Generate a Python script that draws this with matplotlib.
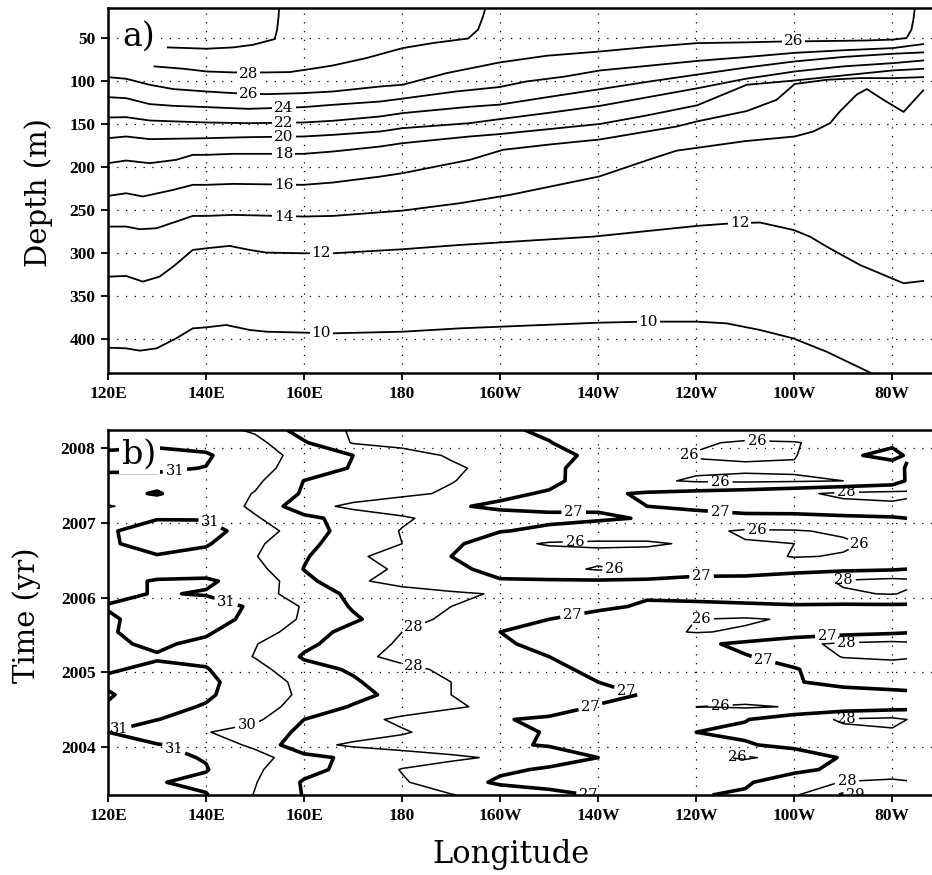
import numpy as np
import matplotlib
matplotlib.use("Agg")
import matplotlib.pyplot as plt
from matplotlib.font_manager import FontProperties

plt.rcParams['font.family'] = ['DejaVu Serif']

# ---------------- Panel a: isotherm depths (deg E, m) ----------------
iso30_lon = [132.2, 140.1, 145.5, 149.6, 153.0, 154.0, 154.5, 154.8, 154.9]
iso30_dep = [60.9, 62.4, 60.9, 57.8, 52.7, 51.2, 40.3, 24.7, 15.0]

iso28_lon = [129.5, 135.3, 140.1, 145.5, 152.3, 157.1, 162.5, 165.9, 172.7, 180.1, 186.3, 193.5, 195.5, 196.5, 197.0]
iso28_dep = [83.0, 85.7, 88.9, 90.0, 90.0, 89.6, 85.0, 81.9, 73.3, 61.7, 55.8, 50.5, 40.0, 25.0, 15.0]

iso26_lon = [120, 123.7, 128.5, 133.3, 140.1, 145.5, 152.3, 159.9, 165.9, 175.5, 180.1, 189.1, 199.9, 209.5,
             220.4, 230.0, 240.2, 250.0, 257.8, 266.0, 274.8, 280.0, 282.9, 283.9, 284.3, 284.6]
iso26_dep = [95.5, 97.4, 104.4, 109.4, 112.2, 114.1, 115.3, 114.1, 112.2, 106.4, 104.4, 90.8, 78.4, 70.6,
             65.6, 60.5, 55.9, 55.0, 54.0, 53.5, 52.8, 51.8, 50.0, 40.3, 28.7, 15.0]

iso24_lon = [120, 123.7, 128.5, 133.3, 140.1, 148.6, 159.9, 165.9, 175.5, 180.1, 191.0, 199.9, 205.4, 213.0,
             220.4, 230.0, 240.2, 250.0, 260.1, 270.0, 280.1, 286.3]
iso24_dep = [118.8, 120.0, 126.9, 128.9, 130.4, 132.4, 130.4, 127.7, 123.9, 120.5, 112.2, 107.0, 100.5, 95.0,
             87.7, 82.4, 76.6, 72.2, 67.2, 64.2, 61.7, 57.0]

iso22_lon = [120, 123.7, 128.5, 140.1, 148.6, 159.9, 165.9, 175.5, 180.1, 193.8, 199.9, 210, 220.4, 230,
             240.2, 250, 260.1, 270, 280.1, 286.3]
iso22_dep = [142.5, 142.1, 146.0, 148.3, 149.1, 148.3, 146.3, 141.3, 137.4, 130.0, 127.5, 118.5, 109.5, 101.0,
             92.5, 84.5, 77.2, 72.0, 68.3, 66.7]

iso20_lon = [120, 123.7, 128.5, 140.1, 148.6, 159.9, 165.9, 175.5, 180.1, 193.8, 199.9, 210, 220.4, 230,
             240.2, 250, 260.1, 270, 280.1, 286.3]
iso20_dep = [166.6, 164.6, 167.7, 166.6, 165.4, 164.6, 162.7, 158.8, 154.9, 149.1, 144.4, 137.0, 128.9, 119.0,
             108.5, 97.5, 88.9, 83.0, 79.2, 76.1]

iso18_lon = [120, 123.7, 128.5, 133.9, 137.3, 140.1, 145.5, 159.9, 165.9, 175.5, 180.1, 193.8, 199.9, 210,
             220.4, 230, 240.2, 250.3, 260.1, 268, 280.1, 286.3]
iso18_dep = [195.7, 192.6, 195.7, 191.8, 186.0, 186.0, 184.8, 184.8, 182.1, 176.3, 172.4, 164.6, 161.8, 156.0,
             150.0, 140.0, 128.3, 104.4, 99.4, 94.7, 87.7, 85.8]

iso16_lon = [120, 123.7, 127.1, 133.3, 137.3, 140.1, 145.5, 159.9, 165.9, 175.5, 180.1, 193.8, 200.6, 210,
             220.3, 236, 240.2, 250.3, 256.4, 260.1, 266.6, 273.4, 280.1, 286.3]
iso16_dep = [233.8, 230.7, 234.5, 226.8, 220.9, 220.9, 219.8, 220.9, 218.2, 211.3, 207.3, 191.8, 180.1, 174.0,
             168.1, 153.0, 147.0, 135.0, 121.9, 103.5, 98.6, 96.6, 96.7, 95.5]

iso14_lon = [120, 123.7, 126.5, 129.9, 133.9, 137.3, 140.1, 145.5, 159.9, 165.9, 180.1, 191.8, 202.0, 220.2,
             230.6, 236.0, 250, 260.1, 263.9, 267.3, 269.3, 272.7, 274.8, 278.5, 282.3, 286.3]
iso14_dep = [269.5, 269.5, 272.6, 271.4, 263.7, 257.1, 257.1, 255.9, 257.8, 257.1, 250.9, 242.3, 232.6, 211.2,
             191.1, 181.1, 170.0, 164.6, 158.8, 149.1, 135.5, 116.0, 109.4, 123.0, 136.0, 111.0]

iso12_lon = [120, 123.7, 127.1, 130.5, 133.3, 137.3, 140.1, 144.8, 148.9, 152.3, 159.9, 165.9, 180.1, 191.8,
             219.0, 240.2, 247.6, 253.0, 259.8, 263.2, 266.6, 273.4, 282.3, 286.3]
iso12_dep = [327.8, 327.0, 333.6, 327.8, 316.1, 296.7, 294.8, 292.0, 296.7, 299.8, 300.6, 300.6, 295.9, 290.9,
             281.2, 268.7, 265.6, 264.8, 273.4, 281.2, 292.8, 314.2, 335.5, 332.8]

iso10_lon = [120, 123.7, 126.5, 129.9, 133.9, 137.3, 140.1, 144.1, 148.9, 152.3, 159.9, 165.9, 180.1, 191.8,
             220.2, 229.9, 240.2, 246.2, 253.0, 259.8, 266.6, 275.8]
iso10_dep = [410.5, 411.3, 414.0, 411.3, 399.7, 388.0, 386.8, 384.1, 389.9, 391.9, 393.0, 393.8, 391.9, 388.0,
             381.4, 380.2, 380.2, 382.2, 389.9, 399.7, 415.2, 440.4]

isotherms = [(iso30_lon, iso30_dep), (iso28_lon, iso28_dep), (iso26_lon, iso26_dep), (iso24_lon, iso24_dep),
             (iso22_lon, iso22_dep), (iso20_lon, iso20_dep), (iso18_lon, iso18_dep), (iso16_lon, iso16_dep),
             (iso14_lon, iso14_dep), (iso12_lon, iso12_dep), (iso10_lon, iso10_dep)]

a_label_txt = ['28', '26', '24', '22', '20', '18', '16', '14', '12', '10', '26', '12', '10']
a_label_lon = [148.6, 148.6, 155.9, 155.9, 155.9, 155.9, 155.9, 155.9, 163.5, 163.5, 259.8, 248.9, 230.2]
a_label_dep = [91.6, 115.3, 131.6, 149.1, 165.4, 184.8, 220.9, 258.6, 300.6, 393.8, 53.9, 264.8, 380.2]

# ---------------- Panel b: SST (time x longitude) ----------------
sst_lon = [120, 130, 140, 150, 160, 170, 180, 190, 200, 210, 220, 230, 240, 250, 260, 270, 280, 283]
sst_time = [2003.36, 2003.53, 2003.70, 2003.86, 2004.03, 2004.20, 2004.37, 2004.54, 2004.70, 2004.87,
            2005.04, 2005.21, 2005.38, 2005.54, 2005.71, 2005.88, 2006.05, 2006.22, 2006.38, 2006.55,
            2006.72, 2006.89, 2007.06, 2007.22, 2007.39, 2007.56, 2007.73, 2007.90, 2008.07, 2008.24]
sst = [
    [31.1, 31.1, 31.05, 29.95, 28.95, 28.6, 28.3, 28.05, 27.6, 27.2, 26.95, 26.9, 26.95, 27.1, 27.9, 29.1, 28.7, 28.3],
    [31.1, 31.05, 30.8, 30.05, 28.9, 28.5, 28.1, 27.45, 26.85, 26.75, 26.7, 26.7, 26.8, 26.9, 27.5, 28.05, 28.2, 28.1],
    [31.1, 31.15, 31.05, 30.15, 29.3, 28.7, 27.95, 27.55, 27.15, 26.9, 26.75, 26.6, 26.5, 26.55, 26.8, 27.2, 27.4, 27.3],
    [31.2, 31.2, 30.95, 30.45, 29.3, 28.8, 28.5, 28.2, 27.85, 27.35, 27.0, 26.6, 26.2, 25.9, 26.3, 27.1, 27.2, 27.1],
    [31.1, 31.05, 30.7, 29.75, 28.3, 27.85, 27.6, 27.35, 27.1, 26.95, 26.85, 26.8, 26.8, 26.9, 27.3, 27.6, 27.7, 27.6],
    [31.0, 30.45, 30.05, 29.55, 28.8, 28.45, 28.1, 27.6, 27.2, 26.95, 26.85, 26.9, 27.0, 27.2, 27.5, 27.8, 27.9, 27.9],
    [31.1, 31.02, 30.6, 30.2, 29.0, 28.35, 27.8, 27.4, 27.04, 26.9, 26.8, 26.7, 26.75, 26.95, 27.6, 28.1, 28.2, 28.0],
    [31.05, 31.2, 30.95, 30.45, 29.6, 28.92, 28.53, 28.14, 27.75, 27.3, 26.95, 26.6, 26.0, 25.9, 26.05, 26.4, 26.6, 26.7],
    [30.95, 31.3, 31.1, 30.6, 29.8, 29.3, 28.7, 28.0, 27.75, 27.45, 27.2, 26.95, 26.6, 26.4, 26.5, 26.7, 26.8, 26.9],
    [31.1, 31.3, 31.2, 30.5, 29.75, 29.1, 28.55, 28.0, 27.65, 27.3, 27.0, 26.85, 26.8, 26.85, 26.95, 27.2, 27.3, 27.2],
    [30.95, 31.1, 31.05, 30.35, 29.3, 28.9, 28.25, 27.8, 27.45, 27.1, 26.9, 26.8, 26.75, 26.8, 26.95, 27.4, 27.6, 27.5],
    [30.9, 30.95, 30.8, 29.95, 28.9, 28.3, 27.7, 27.35, 27.05, 27.0, 26.95, 26.9, 26.8, 26.95, 27.3, 28.05, 28.15, 28.1],
    [30.9, 31.1, 30.85, 30.05, 29.2, 28.55, 27.85, 27.45, 27.05, 26.9, 26.8, 26.7, 26.8, 27.2, 27.8, 28.15, 28.3, 28.2],
    [30.95, 31.2, 31.1, 30.5, 29.5, 28.65, 28.0, 27.5, 27.0, 26.8, 26.6, 26.2, 25.95, 26.1, 26.3, 26.6, 26.8, 26.9],
    [30.9, 31.3, 31.3, 30.8, 29.85, 29.15, 28.35, 27.8, 27.4, 27.0, 26.7, 26.4, 26.0, 25.9, 26.1, 26.3, 26.5, 26.6],
    [31.05, 31.3, 31.3, 30.9, 29.9, 28.9, 28.45, 28.0, 27.7, 27.45, 27.15, 26.9, 26.8, 26.85, 26.9, 26.8, 26.8, 26.8],
    [30.8, 31.05, 30.95, 30.55, 29.4, 28.85, 28.5, 28.2, 27.9, 27.55, 27.3, 27.1, 27.3, 27.4, 27.6, 27.9, 28.05, 27.9],
    [30.8, 31.05, 31.1, 30.7, 29.3, 28.2, 27.6, 27.15, 27.05, 27.1, 27.1, 27.15, 27.2, 27.3, 27.6, 28.1, 28.3, 28.2],
    [30.6, 30.7, 30.7, 30.35, 28.97, 28.35, 27.85, 27.15, 26.8, 26.3, 25.9, 26.2, 26.7, 26.6, 26.7, 26.8, 26.9, 27.0],
    [30.85, 30.95, 30.7, 30.05, 29.1, 28.2, 27.55, 27.0, 26.7, 26.5, 26.3, 26.3, 26.4, 26.3, 25.95, 26.05, 26.5, 26.7],
    [30.9, 31.3, 31.1, 30.2, 29.2, 28.6, 28.0, 27.25, 26.3, 25.9, 25.85, 25.9, 26.1, 26.05, 26.0, 25.9, 26.2, 26.5],
    [30.9, 31.4, 31.3, 30.6, 29.4, 28.64, 27.95, 27.5, 27.05, 26.8, 26.6, 26.4, 26.2, 25.9, 25.95, 26.1, 26.4, 26.6],
    [30.9, 30.95, 30.95, 30.1, 29.25, 28.63, 28.14, 27.6, 27.35, 27.2, 27.1, 26.95, 26.8, 26.8, 26.7, 26.8, 26.9, 27.0],
    [29.9, 30.6, 30.7, 29.8, 28.4, 27.77, 27.43, 27.1, 26.85, 26.8, 26.9, 27.0, 27.1, 27.3, 27.5, 27.7, 27.8, 27.7],
    [30.8, 31.05, 30.6, 29.95, 28.88, 28.54, 28.2, 27.87, 27.2, 26.9, 26.85, 27.1, 27.3, 27.5, 27.8, 28.2, 28.3, 28.2],
    [30.8, 30.8, 30.6, 30.2, 28.98, 28.67, 28.35, 28.04, 27.64, 27.24, 26.5, 26.15, 25.9, 25.85, 25.9, 26.0, 26.4, 27.1],
    [31.1, 31.1, 30.98, 30.3, 29.6, 28.92, 28.54, 28.15, 27.7, 27.15, 26.7, 26.4, 26.15, 26.1, 26.1, 26.2, 26.5, 27.1],
    [31.2, 31.3, 31.1, 30.4, 29.7, 29.0, 28.4, 27.9, 27.55, 27.2, 26.85, 26.3, 25.95, 25.9, 25.95, 26.8, 27.3, 26.9],
    [30.7, 30.8, 30.7, 30.3, 29.1, 27.93, 27.7, 27.48, 27.25, 27.02, 26.7, 26.4, 26.1, 25.9, 25.95, 26.3, 26.8, 26.7],
    [30.6, 30.7, 30.4, 29.85, 28.55, 27.9, 27.65, 27.35, 27.1, 26.9, 26.8, 26.7, 26.6, 26.5, 26.6, 26.7, 26.8, 26.8],
]

thin_levels = [26, 28, 30]
thick_levels = [27, 29, 31]
thick_label_pos = [(133.7, 2007.67), (140.8, 2007.0), (144.5, 2006.04), (122.1, 2004.3), (133.6, 2004.01),
                   (215.0, 2007.35), (244.9, 2007.18), (241.1, 2006.2), (215.0, 2005.66), (266.7, 2005.52),
                   (226.2, 2004.86), (252.4, 2004.84), (218.7, 2004.46), (218.7, 2003.48), (274.8, 2003.43)]
thin_label_pos = [(148.3, 2004.33), (182.0, 2005.66), (182.0, 2004.99), (270.7, 2007.44), (270.0, 2006.31),
                  (270.7, 2005.44), (270.7, 2004.41), (270.7, 2003.59),
                  (252.4, 2008.05), (236.0, 2007.86), (244.9, 2007.55), (215.3, 2006.73), (226.5, 2006.31),
                  (252.4, 2006.95), (274.8, 2006.75), (241.1, 2005.7), (244.9, 2004.57),
                  (248.3, 2003.88)]

lon_ticks = [120, 140, 160, 180, 200, 220, 240, 260, 280]
lon_labels = ['120E', '140E', '160E', '180', '160W', '140W', '120W', '100W', '80W']
depth_ticks = [50, 100, 150, 200, 250, 300, 350, 400]
year_ticks = [2004, 2005, 2006, 2007, 2008]

# ---------------- figure ----------------
W, H = 932, 875
fig = plt.figure(figsize=(W / 100, H / 100), dpi=100)


def rect(x0, y0, x1, y1):
    return [x0 / W, 1 - y1 / H, (x1 - x0) / W, (y1 - y0) / H]


axa = fig.add_axes(rect(108, 8, 932, 373))
axb = fig.add_axes(rect(108, 430, 932, 795))

tickfp = FontProperties(family='Liberation Serif', weight='bold', size=12.5)


def style(ax):
    ax.set_xlim(120, 288.1)
    ax.set_xticks(lon_ticks)
    ax.set_xticklabels(lon_labels, fontproperties=tickfp)
    ax.grid(True, color='k', linestyle=(0, (1, 6)), linewidth=0.9)
    ax.set_axisbelow(True)
    ax.spines['right'].set_visible(False)
    for s in ['top', 'left', 'bottom']:
        ax.spines[s].set_linewidth(1.8)
    ax.tick_params(direction='out', length=5, width=1.3, pad=4)


# panel a
style(axa)
axa.set_ylim(440, 15)
axa.set_yticks(depth_ticks)
axa.set_yticklabels([str(d) for d in depth_ticks], fontproperties=tickfp)
for lo, de in isotherms:
    axa.plot(lo, de, color='k', lw=1.3, zorder=2)
for t, lo, de in zip(a_label_txt, a_label_lon, a_label_dep):
    axa.text(lo, de, t, ha='center', va='center', fontsize=11, zorder=5,
             bbox=dict(boxstyle='square,pad=0.12', fc='white', ec='none'))
axa.text(0.018, 0.965, 'a)', transform=axa.transAxes, fontsize=24, va='top', ha='left', zorder=6,
         bbox=dict(boxstyle='square,pad=0.1', fc='white', ec='none'))

# panel b
style(axb)
axb.set_ylim(2003.36, 2008.24)
axb.set_yticks(year_ticks)
axb.set_yticklabels([str(y) for y in year_ticks], fontproperties=tickfp)
X, Y = np.meshgrid(sst_lon, sst_time)
Z = np.array(sst)
cs_thin = axb.contour(X, Y, Z, levels=thin_levels, colors='k', linewidths=1.1, zorder=2)
cs_thick = axb.contour(X, Y, Z, levels=thick_levels, colors='k', linewidths=2.6, zorder=2)
labs = axb.clabel(cs_thick, manual=thick_label_pos, fmt='%d', fontsize=10.5, inline=True, inline_spacing=3)
labs += axb.clabel(cs_thin, manual=thin_label_pos, fmt='%d', fontsize=10.5, inline=True, inline_spacing=3)
for t in labs:
    t.set_rotation(0)
axb.text(0.017, 0.975, 'b)', transform=axb.transAxes, fontsize=24, va='top', ha='left', zorder=6,
         bbox=dict(boxstyle='square,pad=0.1', fc='white', ec='none'))

fig.text(39 / W, 1 - 193 / H, 'Depth (m)', rotation=90, ha='center', va='center', fontsize=21)
fig.text(27 / W, 1 - 615 / H, 'Time (yr)', rotation=90, ha='center', va='center', fontsize=21)
fig.text(511 / W, 1 - 855 / H, 'Longitude', ha='center', va='center', fontsize=22)

fig.savefig('out.png', dpi=100, facecolor='white')
